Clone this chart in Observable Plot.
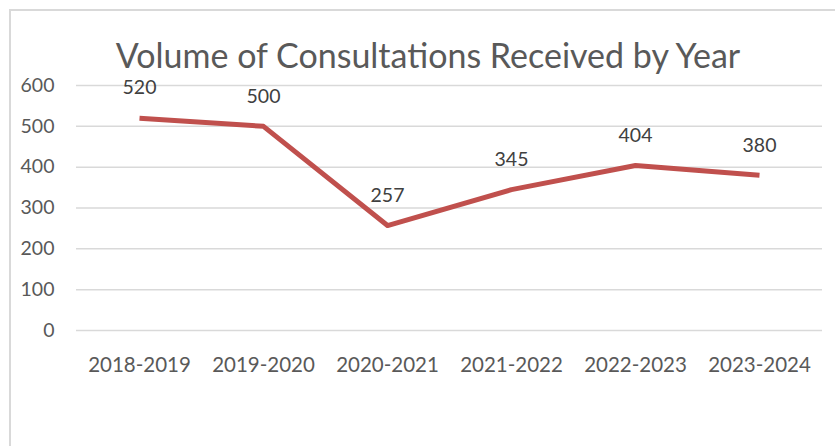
<!DOCTYPE html>
<html>
<head>
<meta charset="utf-8">
<script src="https://cdn.jsdelivr.net/npm/d3@7"></script>
<script src="https://cdn.jsdelivr.net/npm/@observablehq/plot@0.6"></script>
<style>
  html, body { margin: 0; padding: 0; background: #ffffff; width: 835px; height: 446px; overflow: hidden; }
  #frame { position: absolute; left: 9px; top: 9px; width: 900px; height: 500px; border: 2px solid #d9d9d9; box-sizing: border-box; }
  #title { position: absolute; left: 0; top: 35px; width: 856px; text-align: center; font-family: Lato, sans-serif; font-size: 34px; line-height: 40px; color: #595959; white-space: nowrap; }
  #chart { position: absolute; left: 0; top: 72px; }
</style>
</head>
<body>
<div id="frame"></div>
<div id="title">Volume of Consultations Received by Year</div>
<div id="chart"></div>
<script>
const years = ["2018-2019", "2019-2020", "2020-2021", "2021-2022", "2022-2023", "2023-2024"];
const consultations = [520, 500, 257, 345, 404, 380];
const yTicks = [0, 100, 200, 300, 400, 500, 600];

const data = years.map((year, i) => ({year, value: consultations[i]}));

const chart = Plot.plot({
  width: 835,
  height: 318,
  marginLeft: 76,
  marginRight: 13,
  marginTop: 13,
  marginBottom: 60,
  style: {fontFamily: "Lato, sans-serif", fontSize: "19.5px", color: "#595959", background: "transparent", overflow: "visible"},
  x: {type: "point", domain: years, padding: 0.5},
  y: {domain: [0, 600]},
  marks: [
    Plot.ruleY(yTicks, {stroke: "#d9d9d9", strokeWidth: 1.5}),
    Plot.axisY(yTicks, {tickSize: 0, tickPadding: 22, label: null, fill: "#595959", fontSize: 19.5}),
    Plot.axisX({tickSize: 0, tickPadding: 27, label: null, fill: "#595959", fontSize: 20.5}),
    Plot.line(data, {x: "year", y: "value", stroke: "#C0504D", strokeWidth: 5, strokeLinecap: "butt", strokeLinejoin: "round"}),
    Plot.text(data, {x: "year", y: "value", text: d => String(d.value), dy: -30, fill: "#404040", fontSize: 19.5})
  ]
});
document.getElementById("chart").appendChild(chart);
</script>
</body>
</html>
